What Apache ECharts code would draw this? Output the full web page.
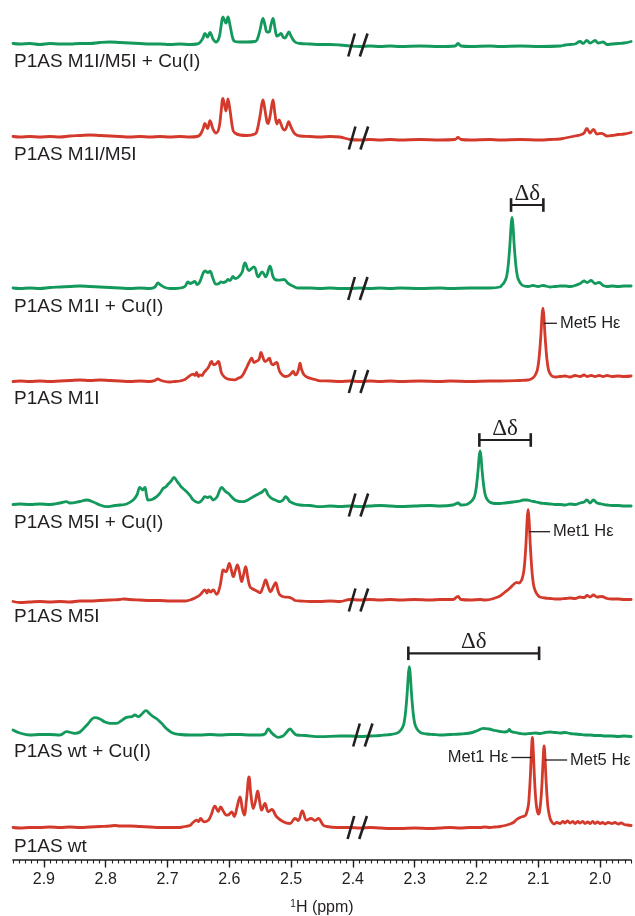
<!DOCTYPE html>
<html>
<head>
<meta charset="utf-8">
<script src="https://cdn.jsdelivr.net/npm/echarts@6/dist/echarts.min.js"></script>
<style>
html,body{margin:0;padding:0;background:#ffffff;}
#chart{width:635px;height:916px;}
</style>
</head>
<body>
<div id="chart"></div>
<script>
// ---------------- DATA ----------------
const traceNames = [
  'P1AS M1I/M5I + Cu(I)', 'P1AS M1I/M5I', 'P1AS M1I + Cu(I)', 'P1AS M1I',
  'P1AS M5I + Cu(I)', 'P1AS M5I', 'P1AS wt + Cu(I)', 'P1AS wt'
];
const majorTicks = [2.0, 2.1, 2.2, 2.3, 2.4, 2.5, 2.6, 2.7, 2.8, 2.9];
const axisTitle = '{s|1}H (ppm)';

// each trace: [ppm, intensity above its own baseline]
const trace1 = [[2.950,1.5],[2.9389,1],[2.9227,1.5],[2.9065,0.5],[2.8903,1.5],[2.8741,1],[2.8579,1],[2.8417,1.5],[2.8255,1.5],[2.8093,2.5],[2.7932,3],[2.7770,2.5],[2.7608,2],[2.7446,1.5],[2.7284,1],[2.7122,1],[2.6960,0.5],[2.6798,1],[2.6637,0.5],[2.6524,1],[2.6475,2.5],[2.6426,7],[2.6394,11.7],[2.6353,8],[2.6313,12.7],[2.6264,6],[2.6216,3],[2.6167,7],[2.6135,18],[2.6102,28],[2.6054,22],[2.6022,28],[2.5989,20],[2.5941,6],[2.5908,3.5],[2.5827,3],[2.5714,3],[2.5585,3.5],[2.5552,5],[2.5503,15],[2.5455,26.7],[2.5423,20],[2.5390,13],[2.5358,13],[2.5326,20],[2.5293,26.7],[2.5261,17],[2.5229,9],[2.5196,10],[2.5164,11.7],[2.5131,8],[2.5099,7],[2.5067,10],[2.5034,13],[2.5002,9],[2.4937,3],[2.4856,1.5],[2.4694,1],[2.4532,0.5],[2.4371,0.5],[2.4209,0],[2.4047,-1],[2.3885,-1.5],[2.3723,-1],[2.3561,-1.5],[2.3399,-1],[2.3237,-1.5],[2.2914,-1],[2.2590,-1.5],[2.2347,-1],[2.2299,1.5],[2.2250,-1],[2.2104,-1.5],[2.1781,-1],[2.1619,-1.5],[2.1295,-1],[2.0971,-1.5],[2.0647,-1],[2.0567,0],[2.0486,0.5],[2.0405,1],[2.0324,3.5],[2.0275,1.5],[2.0215,4.5],[2.0162,2],[2.0081,4.5],[2.0032,2],[1.9951,3],[1.9887,0.5],[1.9806,1],[1.9709,1.5],[1.9612,2],[1.9498,3.5]];
const trace2 = [[2.950,1.5],[2.9389,1],[2.9227,1.5],[2.9065,1],[2.8903,1.5],[2.8741,1],[2.8579,2],[2.8417,2.5],[2.8255,3],[2.8093,2.5],[2.7932,2],[2.7770,1.5],[2.7608,1],[2.7446,1.5],[2.7284,1],[2.7122,1.5],[2.6960,1],[2.6798,1.5],[2.6637,1],[2.6524,1.5],[2.6475,3],[2.6426,9],[2.6394,14.6],[2.6353,9.5],[2.6313,17.3],[2.6264,9],[2.6216,5],[2.6167,10],[2.6135,25],[2.6102,39.6],[2.6054,27],[2.6022,39],[2.5989,28],[2.5941,8],[2.5908,5],[2.5827,3],[2.5714,2.5],[2.5585,4],[2.5552,7],[2.5503,22],[2.5455,38],[2.5423,28],[2.5390,16],[2.5374,14.3],[2.5340,22],[2.5293,38],[2.5261,24],[2.5229,14],[2.5196,18],[2.5164,14],[2.5131,9],[2.5099,8],[2.5067,12],[2.5040,16.3],[2.5002,11],[2.4937,4],[2.4856,2],[2.4694,1.5],[2.4532,1],[2.4371,1.5],[2.4209,1],[2.4047,-1.5],[2.3885,-2],[2.3723,-1.5],[2.3561,-2],[2.3399,-1.5],[2.3237,-2],[2.2914,-1.5],[2.2590,-2],[2.2347,-1.5],[2.2299,0.5],[2.2250,-1.5],[2.2104,-2],[2.1781,-1.5],[2.1619,-2],[2.1295,-1.5],[2.0971,-2],[2.0809,-1.5],[2.0647,-1],[2.0567,0],[2.0486,1],[2.0405,2],[2.0324,3],[2.0259,5],[2.0215,9.7],[2.0162,5],[2.0108,8.7],[2.0049,4],[1.9973,4.7],[1.9890,2],[1.9806,2.5],[1.9709,3.5],[1.9612,4],[1.9498,5.5]];
const trace3 = [[2.950,0.5],[2.9389,0],[2.9227,0.5],[2.9065,0],[2.8903,1],[2.8741,1.5],[2.8579,2],[2.8417,2.5],[2.8255,2],[2.8093,1.5],[2.7932,1],[2.7770,0.5],[2.7608,0],[2.7446,0.5],[2.7284,0],[2.7203,1.5],[2.7155,5.7],[2.7122,4],[2.7041,1],[2.6960,0],[2.6879,0],[2.6798,0.5],[2.6718,2],[2.6669,6.7],[2.6637,5],[2.6556,7],[2.6524,4],[2.6475,7],[2.6426,15],[2.6394,17.7],[2.6345,16],[2.6313,17.3],[2.6264,10],[2.6216,4.3],[2.6167,5],[2.6135,6.7],[2.6102,6],[2.6054,7],[2.6022,9],[2.5989,8],[2.5941,12],[2.5908,10],[2.5860,11],[2.5795,16],[2.5746,25.7],[2.5681,18],[2.5601,21.7],[2.5532,11.7],[2.5467,16.7],[2.5411,11.7],[2.5342,22.3],[2.5293,12],[2.5261,9],[2.5207,8.3],[2.5115,9],[2.5046,5],[2.4965,2.3],[2.4884,0.5],[2.4694,0.5],[2.4532,0],[2.4371,0.5],[2.4209,0],[2.4047,0],[2.3885,0.5],[2.3723,0],[2.3561,0.5],[2.3399,0],[2.3237,0.5],[2.2914,0],[2.2590,0.5],[2.2428,0],[2.2104,0.5],[2.1781,0.5],[2.1620,1.5],[2.1587,3.5],[2.1555,5.7],[2.1522,10],[2.1506,14.2],[2.1490,21.3],[2.1474,32],[2.1457,46],[2.1441,62.5],[2.1425,71],[2.1409,62.5],[2.1393,46],[2.1376,32],[2.1360,21.3],[2.1344,14.2],[2.1328,10],[2.1295,5.7],[2.1263,3.5],[2.1230,2.5],[2.1165,2],[2.1085,3],[2.1004,2],[2.0923,3],[2.0809,1.5],[2.0728,2],[2.0647,2.5],[2.0567,2.5],[2.0486,2],[2.0405,3],[2.0324,5],[2.0259,7.5],[2.0210,6],[2.0146,8],[2.0081,5],[2.0016,6],[1.9951,3],[1.9887,2],[1.9806,2.5],[1.9709,2],[1.9612,2.5],[1.9498,2.5]];
const trace4 = [[2.950,0],[2.9389,0.5],[2.9227,0],[2.9065,0.5],[2.8903,0],[2.8741,0.5],[2.8579,1],[2.8417,1.5],[2.8255,1],[2.8093,1.5],[2.7932,1],[2.7770,0.5],[2.7608,0],[2.7446,0.5],[2.7284,0],[2.7203,1],[2.7155,2.5],[2.7122,1.5],[2.7041,0],[2.6960,-0.5],[2.6879,0],[2.6798,0.5],[2.6718,2],[2.6583,7.3],[2.6555,6],[2.6529,9],[2.6500,5],[2.6475,6.7],[2.6440,6],[2.6410,9],[2.6340,14],[2.6286,20],[2.6260,17],[2.6232,17],[2.6178,20],[2.6150,15],[2.6124,8.3],[2.6070,4],[2.6017,2.3],[2.5908,1.7],[2.5865,3],[2.5800,5],[2.5735,12],[2.5680,19],[2.5638,23.3],[2.5601,19],[2.5569,20],[2.5520,22],[2.5487,29],[2.5455,24],[2.5423,20],[2.5390,21],[2.5353,23.3],[2.5320,18],[2.5288,16.7],[2.5261,18],[2.5234,19],[2.5196,12],[2.5169,8.3],[2.5099,5],[2.5050,5.5],[2.5018,6.7],[2.4986,9],[2.4965,10],[2.4937,7],[2.4921,6.7],[2.4880,12],[2.4856,18.3],[2.4830,12],[2.4791,6.7],[2.4743,4.5],[2.4694,3.3],[2.4613,2],[2.4532,0.7],[2.4371,0.5],[2.4209,0],[2.4047,0.5],[2.3885,0],[2.3723,0.5],[2.3561,0],[2.3399,0.5],[2.3237,0],[2.2914,0.5],[2.2590,0],[2.2428,0.5],[2.2104,0],[2.1781,0.5],[2.1619,0.5],[2.1295,1],[2.1165,1.5],[2.1117,2.5],[2.1085,3.7],[2.1055,5.9],[2.1022,10.3],[2.1006,14.7],[2.0990,22],[2.0974,33],[2.0957,47.6],[2.0941,64.5],[2.0925,73.3],[2.0909,64.5],[2.0893,47.6],[2.0876,33],[2.0860,22],[2.0844,14.7],[2.0828,10.3],[2.0795,6.5],[2.0765,5],[2.0712,4.5],[2.0647,5],[2.0567,5.5],[2.0486,4.5],[2.0405,6],[2.0324,5],[2.0259,6.5],[2.0210,5],[2.0146,6],[2.0081,5],[2.0016,6],[1.9951,5],[1.9887,6],[1.9806,5],[1.9709,5.5],[1.9612,5],[1.9498,5.5]];
const trace5 = [[2.950,0.5],[2.9389,1],[2.9227,0.5],[2.9065,1],[2.8903,0.5],[2.8741,2],[2.8634,3.3],[2.8579,2],[2.8417,3.5],[2.8310,5],[2.8200,3],[2.8093,0],[2.7986,-1.7],[2.7850,-0.5],[2.7770,0],[2.7662,1],[2.7555,5],[2.7495,10],[2.7446,17.7],[2.7403,15],[2.7366,17.7],[2.7340,10],[2.7312,5],[2.7250,5.5],[2.7176,8.3],[2.7120,12],[2.7069,16.7],[2.7030,18],[2.6988,21],[2.6940,24],[2.6896,27.7],[2.6842,23.3],[2.6800,20],[2.6771,17.7],[2.6690,13.3],[2.6630,9],[2.6583,5],[2.6502,2.3],[2.6440,5],[2.6394,8.3],[2.6350,7.5],[2.6313,8.3],[2.6260,5],[2.6200,8],[2.6160,14],[2.6124,17.7],[2.6070,14],[2.6017,11.7],[2.5960,8],[2.5908,5],[2.5840,3.5],[2.5773,3.3],[2.5700,5],[2.5612,8.3],[2.5530,11],[2.5470,13],[2.5423,15.7],[2.5370,10],[2.5315,6.7],[2.5240,4.5],[2.5180,3.3],[2.5130,5],[2.5088,8.3],[2.5050,6],[2.5018,3.3],[2.4937,1],[2.4856,0],[2.4694,-0.5],[2.4532,-1.7],[2.4371,-1],[2.4209,-1.5],[2.4047,-1],[2.3885,-1.5],[2.3723,-1],[2.3561,-0.5],[2.3399,-1],[2.3237,-1.5],[2.3000,-1],[2.2752,-0.5],[2.2590,-1],[2.2380,0],[2.2299,2],[2.2250,0],[2.2160,0.5],[2.2104,2.7],[2.2072,4.3],[2.2039,7.6],[2.2023,10.8],[2.2007,16.2],[2.1991,24.3],[2.1974,35],[2.1958,47.5],[2.1942,54],[2.1926,47.5],[2.1910,35],[2.1893,24.3],[2.1877,16.2],[2.1861,10.8],[2.1845,7.6],[2.1812,4.3],[2.1780,2.7],[2.1700,1.5],[2.1619,1.5],[2.1538,2],[2.1408,3],[2.1295,4],[2.1246,5],[2.1182,5],[2.1117,4],[2.1036,3],[2.0971,2],[2.0890,1.5],[2.0809,1],[2.0728,0.5],[2.0647,0.5],[2.0567,0],[2.0486,1],[2.0405,0.5],[2.0324,2],[2.0259,3],[2.0215,5],[2.0162,2],[2.0108,5],[2.0049,2],[1.9973,1],[1.9887,0],[1.9806,-0.5],[1.9709,-0.5],[1.9612,-1],[1.9498,-1]];
const trace6 = [[2.950,-1.5],[2.9389,-2.5],[2.9227,-2],[2.9065,-1.5],[2.8903,-2],[2.8741,-1.5],[2.8579,-2],[2.8417,-1],[2.8255,-1],[2.8093,-0.5],[2.7932,0],[2.7770,0.5],[2.7716,1],[2.7608,0.5],[2.7446,0],[2.7284,-0.5],[2.7122,-0.5],[2.6960,-1],[2.6798,-1],[2.6718,-1],[2.6637,0],[2.6556,2],[2.6475,5],[2.6394,10],[2.6360,7],[2.6340,10],[2.6300,8],[2.6260,10],[2.6205,5.6],[2.6150,14],[2.6120,25],[2.6098,30],[2.6054,28.2],[2.6000,36.6],[2.5967,30],[2.5935,23.3],[2.5900,30],[2.5870,35],[2.5835,28],[2.5800,18.3],[2.5770,25],[2.5735,33.3],[2.5700,22],[2.5665,13.3],[2.5620,11],[2.5585,10],[2.5540,8.5],[2.5504,7.3],[2.5455,13],[2.5412,20],[2.5370,13],[2.5331,8.3],[2.5290,13],[2.5250,17.3],[2.5210,9],[2.5180,5],[2.5110,3],[2.5029,2.6],[2.4970,1],[2.4937,-0.5],[2.4856,-1],[2.4694,-1.5],[2.4532,-1.5],[2.4371,-1],[2.4209,-1.5],[2.4047,0.5],[2.3885,0],[2.3723,0.5],[2.3561,0],[2.3399,0.5],[2.3237,0],[2.3000,0.5],[2.2752,0],[2.2590,0.5],[2.2380,0.5],[2.2299,3.7],[2.2250,0.5],[2.2104,0],[2.1942,0.5],[2.1862,0],[2.1781,0.5],[2.1700,2],[2.1619,4],[2.1538,8],[2.1457,12],[2.1392,16],[2.1349,17.7],[2.1312,17],[2.1279,19],[2.1263,21],[2.1246,25],[2.1230,31],[2.1214,42],[2.1197,59],[2.1181,79.8],[2.1165,90.7],[2.1149,79.8],[2.1133,59],[2.1116,40.8],[2.1100,27.2],[2.1084,18.1],[2.1068,12.7],[2.1036,7.3],[2.1004,4.5],[2.0971,3],[2.0890,2],[2.0809,1.5],[2.0728,1],[2.0647,1],[2.0567,1.5],[2.0486,2],[2.0405,1.5],[2.0324,3],[2.0259,2.5],[2.0210,4.5],[2.0162,3],[2.0108,5],[2.0049,3],[1.9973,3.5],[1.9887,1.5],[1.9806,1],[1.9709,1],[1.9612,0.5],[1.9498,0.5]];
const trace7 = [[2.950,5],[2.9389,2],[2.9227,0],[2.9065,0.5],[2.8903,0.5],[2.8741,0],[2.8633,3.3],[2.8498,1.7],[2.8417,3],[2.8304,10],[2.8174,17.3],[2.8093,16],[2.8013,13],[2.7932,11.7],[2.7824,11.7],[2.7754,14],[2.7662,17.7],[2.7581,18.3],[2.7527,20],[2.7473,18.3],[2.7414,21],[2.7349,24.3],[2.7284,21],[2.7231,18.3],[2.7171,16],[2.7095,11.7],[2.7009,6],[2.6907,1.7],[2.6798,0.5],[2.6637,0],[2.6475,0],[2.6313,0.5],[2.6151,0],[2.5989,0.5],[2.5827,0.5],[2.5665,0],[2.5503,0],[2.5423,1],[2.5369,6],[2.5326,3],[2.5277,0],[2.5207,-2.3],[2.5131,-1],[2.5083,2],[2.5018,6],[2.4969,3],[2.4910,0],[2.4775,-0.5],[2.4532,-1.7],[2.4209,-1],[2.4047,-1],[2.3885,-1.5],[2.3723,-1],[2.3561,-0.5],[2.3480,0],[2.3399,0.5],[2.3280,2],[2.3249,3.4],[2.3217,5.5],[2.3184,9.6],[2.3168,13.7],[2.3152,20.5],[2.3136,30.7],[2.3119,44.4],[2.3103,60],[2.3087,68.3],[2.3071,60],[2.3055,44.4],[2.3038,30.7],[2.3022,20.5],[2.3006,13.7],[2.2990,9.6],[2.2957,5.5],[2.2925,3.4],[2.2894,2],[2.2800,1],[2.2700,0.5],[2.2590,0],[2.2428,0.5],[2.2266,1],[2.2104,2],[2.2000,4],[2.1889,6.7],[2.1800,6],[2.1700,4.5],[2.1619,3.5],[2.1538,3],[2.1490,4],[2.1468,5.7],[2.1441,3.5],[2.1376,2.5],[2.1295,1.5],[2.1214,1],[2.1133,1.5],[2.1052,2],[2.0971,1.5],[2.0890,2.5],[2.0809,3],[2.0728,2.5],[2.0647,2],[2.0567,2.5],[2.0486,1.5],[2.0405,1],[2.0324,0.5],[2.0243,0],[2.0162,0],[2.0081,-0.5],[1.9999,-0.5],[1.9918,-1],[1.9806,-1],[1.9709,-1.5],[1.9612,-1],[1.9498,-1.5]];
const trace8 = [[2.950,0],[2.9389,-0.5],[2.9227,0],[2.9065,0],[2.8903,0.5],[2.8741,0],[2.8579,0.5],[2.8417,0],[2.8255,0.5],[2.8093,1],[2.7932,1.5],[2.7850,2],[2.7770,1.5],[2.7608,1.5],[2.7446,1],[2.7284,0.5],[2.7122,0],[2.6960,0],[2.6798,0],[2.6718,1],[2.6637,2],[2.6588,5],[2.6528,7.3],[2.6496,6],[2.6464,9],[2.6410,5.7],[2.6340,7.3],[2.6297,12],[2.6232,21.3],[2.6178,16],[2.6140,20.7],[2.6094,16],[2.6043,12.3],[2.6006,13],[2.5962,15.7],[2.5920,11],[2.5876,20],[2.5827,30.7],[2.5787,18],[2.5758,12.3],[2.5722,28],[2.5681,50.7],[2.5649,32],[2.5612,19],[2.5577,26],[2.5541,36.7],[2.5509,26],[2.5476,17.3],[2.5423,24],[2.5369,15.7],[2.5315,18],[2.5234,10.7],[2.5126,5.7],[2.5018,4],[2.4937,9],[2.4884,7],[2.4819,16.7],[2.4748,7.3],[2.4678,9],[2.4613,7],[2.4560,9],[2.4479,2.3],[2.4424,1],[2.4262,0],[2.4047,0],[2.3885,-0.5],[2.3723,0],[2.3561,-0.5],[2.3399,-1],[2.3237,-1],[2.3000,-0.5],[2.2752,-1],[2.2590,-0.5],[2.2428,0],[2.2266,-0.5],[2.2104,0],[2.1942,0],[2.1862,0.5],[2.1781,0],[2.1700,0.5],[2.1619,1],[2.1538,2],[2.1457,3.5],[2.1403,5],[2.1350,8],[2.1295,10],[2.1250,11],[2.1214,11.7],[2.1193,14],[2.1161,22],[2.1145,34],[2.1128,52],[2.1112,75],[2.1096,90],[2.1080,75],[2.1064,52],[2.1047,33],[2.1031,22],[2.1015,16],[2.0999,13.5],[2.0987,14],[2.0971,20],[2.0955,30],[2.0938,47],[2.0922,68],[2.0906,81.7],[2.0890,68],[2.0874,47],[2.0857,30],[2.0841,19],[2.0809,9],[2.0776,5],[2.0744,3.5],[2.0700,5],[2.0647,4],[2.0600,6],[2.0567,4.5],[2.0530,6.5],[2.0486,4.5],[2.0440,6],[2.0405,4],[2.0360,6],[2.0324,4.5],[2.0280,6],[2.0243,4],[2.0200,5.5],[2.0162,4],[2.0120,6],[2.0081,4],[2.0040,5.5],[1.9999,4],[1.9960,5],[1.9918,3.5],[1.9870,5],[1.9806,4],[1.9760,5],[1.9709,3.5],[1.9660,4.5],[1.9612,3],[1.9560,2.5],[1.9498,2]];

// axis-break position (ppm) per trace
const breakPpm = [2.392, 2.391, 2.392, 2.391, 2.391, 2.391, 2.384, 2.393];
// delta-delta brackets: trace index, ppm from, ppm to
const deltaTrace = [2, 4, 6];
const deltaFrom = [2.1441, 2.1954, 2.3103];
const deltaTo = [2.0918, 2.1122, 2.0987];
// peak assignment notes
const noteTrace = [3, 5, 7, 7];
const notePpm = [2.0925, 2.1165, 2.1096, 2.0906];
const noteText = ['Met5 H\u03b5', 'Met1 H\u03b5', 'Met1 H\u03b5', 'Met5 H\u03b5'];

// ---------------- LAYOUT / STYLE ----------------
const traces = [trace1, trace2, trace3, trace4, trace5, trace6, trace7, trace8];
const GREEN = '#13995c', RED = '#d33a2c', INK = '#231f20';
const traceColors = [GREEN, RED, GREEN, RED, GREEN, RED, GREEN, RED];
const baseLevel = [815, 722, 571.5, 478.5, 355, 260, 125, 32.5]; // vertical stacking offsets (y units)
const labelDy = [17, 17, 18.5, 17.5, 17.5, 17, 17, 19.5];
const deltaDy = [83.5, 65, 81.7];
const noteDy = [58.2, 68.3, 70, 67.5];
const noteSide = [1, 1, -1, 1];
const noteLen = [14, 22, 21, 23];

const minorTicks = [];
for (let i = 0; i <= 100; i++) minorTicks.push(Math.round((1.95 + i * 0.01) * 100) / 100);

const chart = echarts.init(document.getElementById('chart'));
const FONT = '"Liberation Sans", Arial, sans-serif';

const series = traces.map((d, i) => ({
  type: 'line',
  xAxisIndex: 0, yAxisIndex: 0,
  data: d.map(p => [p[0], p[1] + baseLevel[i]]),
  showSymbol: false, symbol: 'none',
  smooth: 0.4,
  silent: true, animation: false,
  lineStyle: { width: 2.8, color: traceColors[i], join: 'round', cap: 'round' },
  z: 2
}));

chart.setOption({
  animation: false,
  backgroundColor: '#ffffff',
  grid: { left: 13, right: 4, top: 0, bottom: 56, containLabel: false, outerBoundsMode: 'none' },
  xAxis: [
    {
      type: 'value', min: 1.95, max: 2.95, inverse: true, position: 'bottom',
      axisLine: { show: true, lineStyle: { color: INK, width: 1.6 } },
      axisTick: { show: true, customValues: majorTicks, length: 7.5, lineStyle: { color: INK, width: 1.4 } },
      axisLabel: {
        show: true, customValues: majorTicks, margin: 12,
        formatter: v => v.toFixed(1),
        color: INK, fontSize: 16, fontFamily: FONT
      },
      splitLine: { show: false },
      name: axisTitle, nameLocation: 'middle', nameGap: 39,
      nameTextStyle: {
        color: INK, fontSize: 16, fontFamily: FONT,
        rich: { s: { fontSize: 10, color: INK, fontFamily: FONT, verticalAlign: 'top', lineHeight: 18 } }
      }
    },
    {
      type: 'value', min: 1.95, max: 2.95, inverse: true, position: 'bottom', gridIndex: 0,
      axisLine: { show: false },
      axisTick: { show: true, customValues: minorTicks, length: 3.5, lineStyle: { color: INK, width: 1.1 } },
      axisLabel: { show: false },
      splitLine: { show: false }
    }
  ],
  yAxis: { type: 'value', min: 0, max: 860, show: false, splitLine: { show: false } },
  series: series
});

function px(i, ppm, h) {
  return chart.convertToPixel({ seriesIndex: i }, [ppm, baseLevel[i] + h]);
}

const g = [];
// sample labels
traces.forEach((d, i) => {
  const p = px(i, 2.95, 0);
  g.push({ type: 'text', silent: true, z: 10,
    style: { text: traceNames[i], x: p[0] + 1, y: p[1] + labelDy[i], fill: INK,
      font: '19px ' + FONT, align: 'left', verticalAlign: 'middle' } });
});
// axis-break marks
traces.forEach((d, i) => {
  const c = px(i, breakPpm[i], 0);
  [[-9.6, -3], [2, 9.7]].forEach(s => {
    g.push({ type: 'line', silent: true, z: 10,
      shape: { x1: c[0] + s[0], y1: c[1] + 11.5, x2: c[0] + s[1], y2: c[1] - 11.5 },
      style: { stroke: INK, lineWidth: 2.6 } });
  });
});
// delta-delta brackets
deltaTrace.forEach((t, k) => {
  const a = px(t, deltaFrom[k], deltaDy[k]);
  const b = px(t, deltaTo[k], deltaDy[k]);
  g.push({ type: 'line', silent: true, z: 10,
    shape: { x1: a[0], y1: a[1], x2: b[0], y2: b[1] }, style: { stroke: INK, lineWidth: 2.2 } });
  [a, b].forEach(q => g.push({ type: 'line', silent: true, z: 10,
    shape: { x1: q[0], y1: q[1] - 6.8, x2: q[0], y2: q[1] + 6.8 }, style: { stroke: INK, lineWidth: 2.6 } }));
  g.push({ type: 'text', silent: true, z: 10,
    style: { text: '\u0394\u03b4', x: (a[0] + b[0]) / 2, y: a[1] - 11, fill: INK,
      font: '23px "Liberation Serif", "Times New Roman", serif', align: 'center', verticalAlign: 'middle' } });
});
// peak assignment notes
noteTrace.forEach((t, k) => {
  const p = px(t, notePpm[k], noteDy[k]);
  const s = noteSide[k];
  const x0 = p[0] + s * 1, x1 = p[0] + s * noteLen[k];
  g.push({ type: 'line', silent: true, z: 10,
    shape: { x1: x0, y1: p[1], x2: x1, y2: p[1] }, style: { stroke: INK, lineWidth: 1.3 } });
  g.push({ type: 'text', silent: true, z: 10,
    style: { text: noteText[k], x: x1 + s * 3, y: p[1], fill: INK,
      font: '16.5px ' + FONT, align: s > 0 ? 'left' : 'right', verticalAlign: 'middle' } });
});

chart.setOption({ graphic: { elements: g } });
</script>
</body>
</html>
